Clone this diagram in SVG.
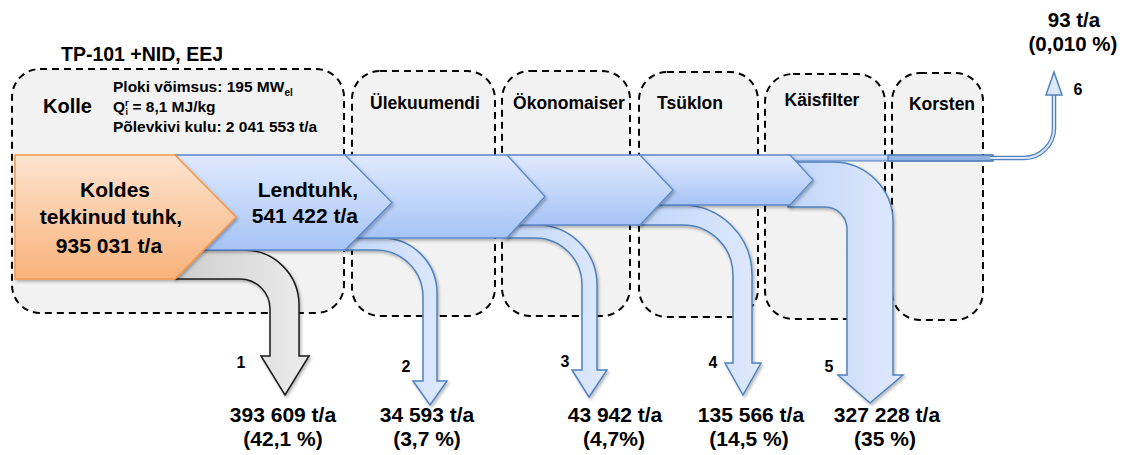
<svg xmlns="http://www.w3.org/2000/svg" width="1122" height="455" viewBox="0 0 1122 455">
  <defs>
    <linearGradient id="gBlueV" x1="0" y1="0" x2="0" y2="1">
      <stop offset="0" stop-color="#dfe9fd"/>
      <stop offset="1" stop-color="#a6c4f6"/>
    </linearGradient>
    <linearGradient id="gOrange" x1="0" y1="0" x2="0" y2="1">
      <stop offset="0" stop-color="#fde4d0"/>
      <stop offset="1" stop-color="#f9b27a"/>
    </linearGradient>
    <linearGradient id="gBranch" x1="0" y1="0" x2="1" y2="0">
      <stop offset="0" stop-color="#c0d6f8"/>
      <stop offset="1" stop-color="#dfe9fc"/>
    </linearGradient>
    <linearGradient id="gGray" x1="0" y1="0" x2="1" y2="0">
      <stop offset="0" stop-color="#cdcdcd"/>
      <stop offset="1" stop-color="#ececec"/>
    </linearGradient>
    <filter id="shadow" x="-10%" y="-10%" width="130%" height="130%">
      <feDropShadow dx="1.5" dy="2" stdDeviation="1.5" flood-color="#000" flood-opacity="0.28"/>
    </filter>
  </defs>
  <style>
    .zone { fill: #f2f2f2; stroke: #000; stroke-width: 2; stroke-dasharray: 7 5; }
    .t { font-family: "Liberation Sans", Arial, sans-serif; font-weight: 700; fill: #000; }
    .big { font-size: 21px; }
    .head { font-size: 17.5px; }
    .info { font-size: 15.5px; }
    .num { font-size: 16px; }
    .mid { text-anchor: middle; }
    .end { text-anchor: end; }
    .branch { fill: url(#gBranch); stroke: #4f81bd; stroke-width: 1.5; filter: url(#shadow); }
    .chev { fill: url(#gBlueV); stroke: #5b88c8; stroke-width: 1.3; filter: url(#shadow); }
  </style>

  <rect width="1122" height="455" fill="#ffffff"/>

  <!-- process zones -->
  <g id="zone-kolle">
    <rect class="zone" x="12" y="69" width="332" height="244" rx="28"/>
    <text class="t mid" x="142" y="61" font-size="19.5">TP-101 +NID, EEJ</text>
    <text class="t" x="43" y="113" font-size="20">Kolle</text>
    <text class="t info" x="113" y="92">Ploki võimsus: 195 MW<tspan font-size="10" dy="4">el</tspan></text>
    <text class="t info" x="113" y="112">Q<tspan font-size="9" dy="-6">r</tspan><tspan font-size="9" dx="-3" dy="9">i</tspan><tspan dy="-3"> = 8,1 MJ/kg</tspan></text>
    <text class="t info" x="113" y="132">Põlevkivi kulu: 2 041 553 t/a</text>
  </g>
  <g id="zone-ulekuumendi">
    <rect class="zone" x="352" y="71" width="143" height="245" rx="28"/>
    <text class="t head mid" x="425" y="109">Ülekuumendi</text>
  </g>
  <g id="zone-okonomaiser">
    <rect class="zone" x="502" y="71" width="128" height="245" rx="28"/>
    <text class="t head mid" x="569" y="109">Ökonomaiser</text>
  </g>
  <g id="zone-tsuklon">
    <rect class="zone" x="639" y="72" width="119" height="245" rx="28"/>
    <text class="t head mid" x="690" y="109">Tsüklon</text>
  </g>
  <g id="zone-kaisfilter">
    <rect class="zone" x="765" y="74" width="120" height="245" rx="28"/>
    <text class="t head mid" x="822" y="106">Käisfilter</text>
  </g>
  <g id="zone-korsten">
    <rect class="zone" x="892" y="73" width="91" height="247" rx="28"/>
    <text class="t head mid" x="942" y="110">Korsten</text>
  </g>

  <!-- ash streams leaving the main flow -->
  <g id="connectors">
    <path id="out-1" d="M175,250 H244 A55,55 0 0 1 299,305 V356 H309 L285,395 L261,356 H270 V309 A30,30 0 0 0 240,279 H175 Z" fill="url(#gGray)" stroke="#1a1a1a" stroke-width="1.5" filter="url(#shadow)"/>
    <path id="out-2" class="branch" d="M345,238 H382 A55,55 0 0 1 437,293 V381 H447 L430,405 L413,381 H423 V297 A47,47 0 0 0 376,250 H345 Z"/>
    <path id="out-3" class="branch" d="M505,225 H537 A60,60 0 0 1 597,285 V370 H607 L589,397 L572,370 H582 V285 A47,47 0 0 0 535,238 H505 Z"/>
    <path id="out-4" class="branch" d="M638,205 H682 A70,70 0 0 1 752,275 V363 H761 L743,395 L725,363 H733 V275 A50,50 0 0 0 683,225 H638 Z"/>
    <path id="out-5" class="branch" d="M788,162 H833 A60,60 0 0 1 893,222 V375 H903 L870,403 L838,375 H847 V229 A22,22 0 0 0 825,207 H788 Z"/>
    <!-- residual stream to the stack -->
    <g id="out-6">
      <rect x="788" y="155" width="205" height="6" fill="url(#gBlueV)" stroke="#4f81bd" stroke-width="1"/>
      <rect x="888" y="155" width="105" height="6" fill="#93b3e3" stroke="#3f6fae" stroke-width="1.2"/>
      <path d="M990,158 H1024 A30,30 0 0 0 1054,128 V95" fill="none" stroke="#4f81bd" stroke-width="4.5"/>
      <path d="M990,158 H1024 A30,30 0 0 0 1054,128 V95" fill="none" stroke="#dce7fa" stroke-width="2"/>
      <polygon points="1046,95 1062,95 1054,72" fill="#dce7fa" stroke="#4f81bd" stroke-width="1.5"/>
    </g>
  </g>

  <!-- main flow -->
  <g id="flow-kaisfilter">
    <path class="chev" d="M640,155 H790 L813,180 L790,205 H640 Z"/>
  </g>
  <g id="flow-tsuklon">
    <path class="chev" d="M507,155 H640 L673,190 L640,225 H507 Z"/>
  </g>
  <g id="flow-okonomaiser">
    <path class="chev" d="M345,155 H507 L545,196.5 L507,238 H345 Z"/>
  </g>
  <g id="flow-lendtuhk">
    <path class="chev" d="M175,155 H345 L392,202.5 L345,250 H175 Z"/>
    <text class="t big end" x="358" y="197">Lendtuhk,</text>
    <text class="t big end" x="358" y="223">541 422 t/a</text>
  </g>
  <g id="flow-koldes">
    <path d="M15,155 H175 L236,217 L175,279 H15 Z" fill="url(#gOrange)" stroke="#f79646" stroke-width="1.5" filter="url(#shadow)"/>
    <text class="t big mid" x="115" y="197">Koldes</text>
    <text class="t big mid" x="111" y="224">tekkinud tuhk,</text>
    <text class="t big mid" x="109" y="253">935 031 t/a</text>
  </g>

  <!-- stream labels -->
  <g id="labels">
    <text class="t num mid" x="241" y="368">1</text>
    <text class="t big mid" x="283" y="422">393 609 t/a</text>
    <text class="t big mid" x="283" y="446">(42,1 %)</text>

    <text class="t num mid" x="406" y="372">2</text>
    <text class="t big mid" x="427" y="422">34 593 t/a</text>
    <text class="t big mid" x="427" y="446">(3,7 %)</text>

    <text class="t num mid" x="565" y="367">3</text>
    <text class="t big mid" x="615" y="422">43 942 t/a</text>
    <text class="t big mid" x="614" y="446">(4,7%)</text>

    <text class="t num mid" x="713" y="368">4</text>
    <text class="t big mid" x="751" y="422">135 566 t/a</text>
    <text class="t big mid" x="749" y="446">(14,5 %)</text>

    <text class="t num mid" x="829" y="372">5</text>
    <text class="t big mid" x="887" y="422">327 228 t/a</text>
    <text class="t big mid" x="885" y="446">(35 %)</text>

    <text class="t num mid" x="1078" y="95">6</text>
    <text class="t mid" x="1074" y="27" font-size="20.5">93 t/a</text>
    <text class="t mid" x="1073" y="50.5" font-size="20.5">(0,010 %)</text>
  </g>
</svg>
